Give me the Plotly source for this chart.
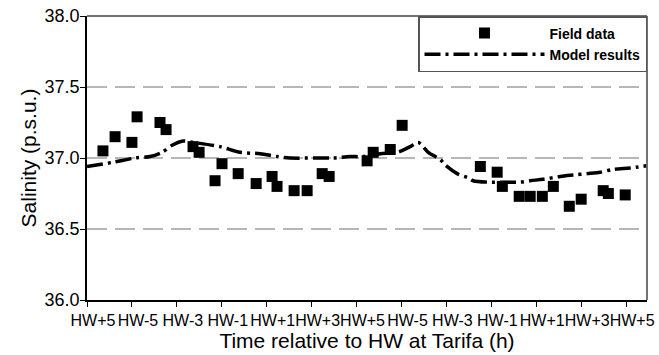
import plotly.graph_objects as go

tick_vals = [0, 2, 4, 6, 8, 10, 12, 14, 16, 18, 20, 22, 24]
tick_text = ["HW+5", "HW-5", "HW-3", "HW-1", "HW+1", "HW+3", "HW+5",
             "HW-5", "HW-3", "HW-1", "HW+1", "HW+3", "HW+5"]

field_x = [0.71, 1.25, 2.00, 2.23, 3.25, 3.52, 4.72, 4.99, 5.70, 6.01, 6.73,
           7.53, 8.24, 8.46, 9.22, 9.80, 10.47, 10.78, 12.47, 12.74, 13.50,
           14.03, 17.51, 18.26, 18.49, 19.24, 19.73, 20.27, 20.76, 21.47,
           22.00, 22.98, 23.21, 23.96]
field_y = [37.05, 37.15, 37.11, 37.29, 37.25, 37.20, 37.08, 37.04, 36.84,
           36.96, 36.89, 36.82, 36.87, 36.80, 36.77, 36.77, 36.89, 36.87,
           36.98, 37.04, 37.06, 37.23, 36.94, 36.90, 36.80, 36.73, 36.73,
           36.73, 36.80, 36.66, 36.71, 36.77, 36.75, 36.74]

model_x = [0, 1.16, 2.14, 2.81, 3.34, 3.79, 4.28, 4.72, 5.92, 6.82, 7.71,
           8.46, 9.04, 10.24, 10.96, 11.71, 12.29, 13.05, 13.81, 14.39, 14.74,
           15.19, 15.72, 15.95, 16.48, 16.97, 17.19, 17.82, 18.53, 19.29,
           19.73, 20.31, 21.07, 21.65, 22.27, 22.85, 23.43, 24.19, 24.9]
model_y = [36.94, 36.97, 37.00, 37.01, 37.04, 37.09, 37.12, 37.11, 37.08,
           37.04, 37.03, 37.01, 37.00, 37.00, 37.00, 37.01, 37.01, 37.03,
           37.04, 37.08, 37.11, 37.04, 36.99, 36.95, 36.89, 36.86, 36.84,
           36.83, 36.83, 36.83, 36.84, 36.85, 36.87, 36.88, 36.89, 36.90,
           36.92, 36.93, 36.945]

grid_levels = [36.5, 37.0, 37.5]

fig = go.Figure()

for g in grid_levels:
    fig.add_shape(type="line", xref="paper", x0=0, x1=1, yref="y", y0=g, y1=g,
                  line=dict(color="#a0a0a0", width=1.5, dash="20px,8px"),
                  layer="below")

fig.add_trace(go.Scatter(
    x=field_x, y=field_y, mode="markers", name="Field data",
    marker=dict(symbol="square", size=11, color="black"),
))
fig.add_trace(go.Scatter(
    x=model_x, y=model_y, mode="lines", name="Model results",
    line=dict(color="black", width=3.5, dash="16px,5px,3px,5px", shape="spline",
              smoothing=0.8),
))

font_family = "Liberation Sans, Arial, sans-serif"

fig.update_layout(
    width=659, height=355,
    margin=dict(l=87, r=12, t=16, b=55),
    paper_bgcolor="white", plot_bgcolor="white",
    font=dict(family=font_family, color="black"),
    showlegend=True,
    legend=dict(
        x=1, y=1, xanchor="right", yanchor="top",
        bordercolor="#555555", borderwidth=1.5, bgcolor="white",
        font=dict(size=14, family=font_family, weight="bold"),
        itemwidth=120, tracegroupgap=0,
    ),
    xaxis=dict(
        range=[0, 24.93], tickmode="array", tickvals=tick_vals, ticktext=tick_text,
        ticks="outside", ticklen=5, tickwidth=1.2, tickcolor="black",
        showline=True, linecolor="black", linewidth=1.5, mirror=False,
        showgrid=False, zeroline=False, automargin=False, tickangle=0,
        tickfont=dict(size=16), ticklabelshift=6,
        title=dict(text="Time relative to HW at Tarifa (h)", font=dict(size=21), standoff=0),
    ),
    yaxis=dict(
        range=[36.0, 38.0], tickmode="array", tickvals=[36.0, 36.5, 37.0, 37.5, 38.0],
        tickformat=".1f",
        ticks="outside", ticklen=5, tickwidth=1.2, tickcolor="black",
        showline=True, linecolor="black", linewidth=1.5,
        showgrid=False, zeroline=False, automargin=False,
        tickfont=dict(size=18), ticklabelstandoff=-3,
        title=dict(text="Salinity (p.s.u.)", font=dict(size=21), standoff=2),
    ),
)

# frame top and right
fig.add_shape(type="line", xref="paper", yref="paper", x0=0, x1=1, y0=1, y1=1,
              line=dict(color="#444444", width=1.5))
fig.add_shape(type="line", xref="paper", yref="paper", x0=1, x1=1, y0=0, y1=1,
              line=dict(color="#444444", width=1.5))

fig.write_html("out.html", config={"displayModeBar": False},
               post_script="document.body.style.margin='0px';")
